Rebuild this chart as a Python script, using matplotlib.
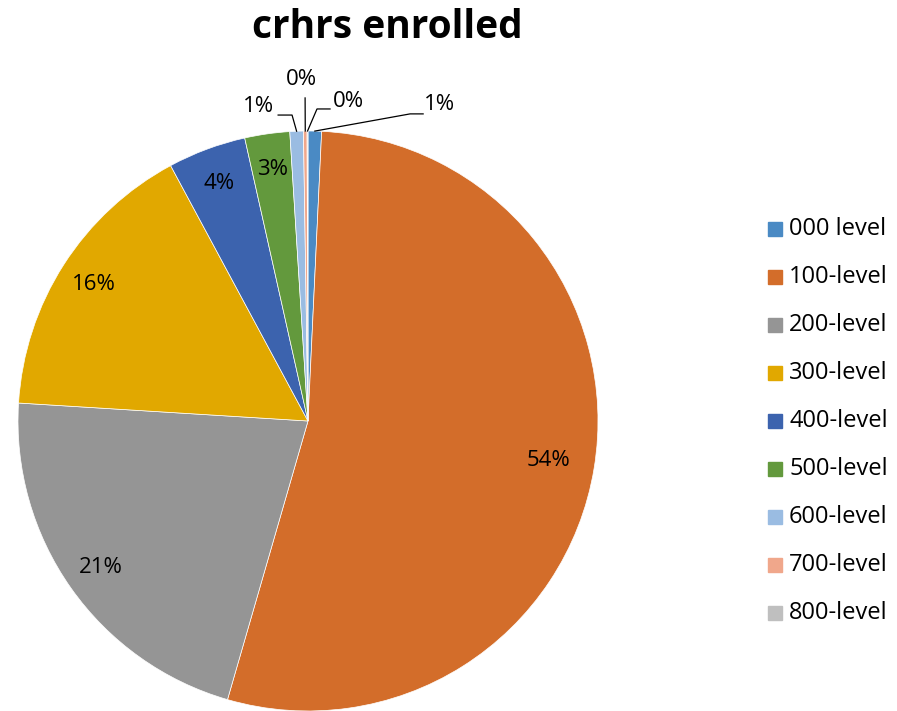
import numpy as np
import matplotlib
matplotlib.use("Agg")
import matplotlib.pyplot as plt
from matplotlib.patches import Rectangle

# data
levels = ["000 level", "100-level", "200-level", "300-level", "400-level",
          "500-level", "600-level", "700-level", "800-level"]
shares = [0.75, 53.7, 21.5, 16.15, 4.35, 2.5, 0.75, 0.2, 0.05]
pct_labels = ["1%", "54%", "21%", "16%", "4%", "3%", "1%", "0%", "0%"]
colors = ["#4A8AC4", "#D36D2A", "#959595", "#E1A800", "#3C63AE",
          "#63993D", "#9ABCE2", "#F0A78B", "#BFBFBF"]

plt.rcParams['font.family'] = ['Open Sans', 'DejaVu Sans']

fig = plt.figure(figsize=(8.97, 7.11), dpi=100)
W, H = 897, 711
cx, cy, R = 308, 421, 290
ax = fig.add_axes([(cx - R) / W, (H - cy - R) / H, 2 * R / W, 2 * R / H])

wedges, _ = ax.pie(shares, colors=colors, startangle=90, counterclock=False,
                   radius=1, wedgeprops=dict(edgecolor="white", linewidth=0.5))
ax.set_xlim(-1, 1)
ax.set_ylim(-1, 1)
ax.axis("off")

# labels inside for the big slices, leader lines for the slivers
# (text x, text y, elbow x, elbow y, end x, end y) in pie units
callouts = {
    0: (0.455, 1.093, 0.352, 1.059, 0.397, 1.059),
    6: (-0.172, 1.083, -0.055, 1.055, -0.103, 1.055),
    7: (-0.021, 1.179, -0.010, 1.114, -0.010, 1.114),
    8: (0.138, 1.103, 0.031, 1.076, 0.076, 1.076),
}
for i, w in enumerate(wedges):
    mid = np.deg2rad((w.theta1 + w.theta2) / 2)
    if i in callouts:
        tx, ty, ex, ey, hx, hy = callouts[i]
        sx, sy = np.cos(mid), np.sin(mid)
        ax.plot([sx, ex, hx], [sy, ey, hy], color="black", lw=0.9, clip_on=False)
        ax.text(tx, ty, pct_labels[i], ha="center", va="center", fontsize=16)
    else:
        r = 0.84 if i == 1 else 0.875
        ax.text(r * np.cos(mid), r * np.sin(mid), pct_labels[i],
                ha="center", va="center", fontsize=16)

fig.text(387 / W, 1 - 27 / H, "crhrs enrolled", ha="center", va="center",
         fontsize=28, fontweight="bold")

# legend
for k, (name, c) in enumerate(zip(levels, colors)):
    y = 229 + 48 * k
    fig.patches.append(Rectangle((768 / W, 1 - (y + 7) / H), 14 / W, 14 / H,
                                 color=c, transform=fig.transFigure))
    fig.text(789 / W, 1 - y / H, name, ha="left", va="center", fontsize=17)

fig.savefig("out.png", dpi=100)
